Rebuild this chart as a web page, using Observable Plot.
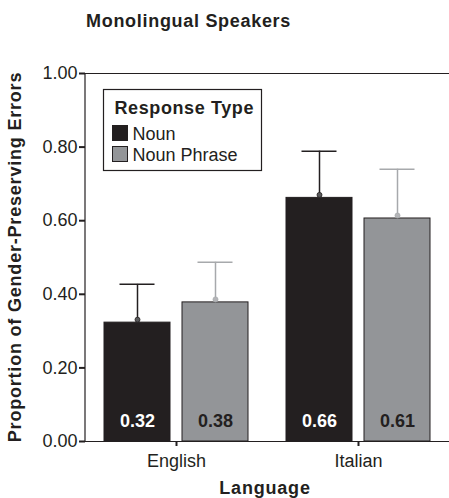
<!DOCTYPE html>
<html><head><meta charset="utf-8">
<script src="https://cdn.jsdelivr.net/npm/d3@7"></script>
<script src="https://cdn.jsdelivr.net/npm/@observablehq/plot@0.6"></script>
<style>
body{margin:0;background:#fff;font-family:"Liberation Sans",Arial,sans-serif;overflow:hidden;}
#title{height:40px;box-sizing:border-box;padding:12px 0 0 86px;font-weight:bold;font-size:18px;letter-spacing:0.7px;color:#231f20;line-height:18px;}
</style></head><body>
<div id="title">Monolingual Speakers</div>
<div id="chart"></div>
<script>
const languages = ["English", "Italian"];
const responseTypes = ["Noun", "Noun Phrase"];
const nounMeans = [0.323, 0.662];
const phraseMeans = [0.378, 0.606];
const nounUpper = [0.427, 0.789];
const phraseUpper = [0.487, 0.740];
const yTicks = [0, 0.2, 0.4, 0.6, 0.8, 1.0];
const barColors = ["#231f20", "#939598"];
const errColors = ["#231f20", "#a7a9ac"];
const dotColors = ["#5a5a5c", "#b4b5b8"];
const labelColors = ["#ffffff", "#231f20"];

const series = [nounMeans, phraseMeans];
const uppers = [nounUpper, phraseUpper];
const data = [];
languages.forEach((lang, i) => {
  responseTypes.forEach((t, j) => {
    data.push({language: lang, type: t, mean: series[j][i], upper: uppers[j][i], k: j});
  });
});

const typeMarks = responseTypes.flatMap((t, j) => {
  const d = data.filter(r => r.type === t);
  return [
    Plot.ruleX(d, {fx: "language", x: "type", y1: "mean", y2: "upper", stroke: errColors[j], strokeWidth: 1.5}),
    Plot.tickY(d, {fx: "language", x: "type", y: "upper", stroke: errColors[j], strokeWidth: 1.5, insetLeft: 15.5, insetRight: 15.5}),
    Plot.barY(d, {fx: "language", x: "type", y: "mean", fill: barColors[j], stroke: "#231f20", strokeWidth: 1}),
    Plot.dot(d, {fx: "language", x: "type", y: "mean", r: 2.5, fill: dotColors[j], stroke: errColors[j], strokeWidth: 0.8, dy: -3}),
    Plot.text(d, {fx: "language", x: "type", y: () => 0, text: r => d3.format(".2f")(r.mean), fill: labelColors[j], fontWeight: "bold", fontSize: 18, letterSpacing: 0.5, dy: -20})
  ];
});

const plot = Plot.plot({
  width: 449, height: 458,
  marginLeft: 85, marginRight: 0, marginTop: 33, marginBottom: 57,
  style: {fontFamily: "'Liberation Sans', Arial, sans-serif", fontSize: "18px", color: "#231f20", background: "white", overflow: "visible"},
  fx: {domain: languages, padding: 0, label: null, axis: null},
  x: {domain: responseTypes, paddingInner: 0.152, paddingOuter: 0.228, axis: null},
  y: {domain: [0, 1], axis: null},
  marks: [
    Plot.ruleY([1], {stroke: "#231f20", strokeWidth: 1.2}),
    ...typeMarks,
    Plot.ruleY([0], {stroke: "#231f20", strokeWidth: 1.2}),
    Plot.axisY({ticks: yTicks, tickFormat: d3.format(".2f"), tickSize: 6, tickPadding: 2, strokeWidth: 2, label: null, fontSize: 18}),
    Plot.axisFx({anchor: "bottom", tickSize: 5, tickPadding: 8, strokeWidth: 2, label: null, fontSize: 18})
  ]
});

document.getElementById("chart").appendChild(plot);

const svg = d3.select(plot);
const yS = plot.scale("y");
const yMid = (yS.range[0] + yS.range[1]) / 2;

// left axis line, from the y scale's range
svg.append("line")
  .attr("x1", 85).attr("x2", 85)
  .attr("y1", yS.range[0]).attr("y2", yS.range[1])
  .attr("stroke", "#231f20").attr("stroke-width", 1.2);

svg.append("text")
  .attr("transform", `translate(21,${yMid}) rotate(-90)`)
  .attr("text-anchor", "middle")
  .attr("font-weight", "bold").attr("font-size", 18).attr("letter-spacing", 0.8).attr("fill", "#231f20")
  .text("Proportion of Gender-Preserving Errors");
svg.append("text")
  .attr("x", 265).attr("y", 454)
  .attr("text-anchor", "middle")
  .attr("font-weight", "bold").attr("font-size", 18).attr("letter-spacing", 0.8).attr("fill", "#231f20")
  .text("Language");

// legend
const lg = svg.append("g").attr("transform", "translate(103.5,49.5)").attr("text-anchor", "start");
lg.append("rect").attr("width", 158).attr("height", 81).attr("fill", "white").attr("stroke", "#231f20").attr("stroke-width", 1.2);
lg.append("text").attr("x", 11).attr("y", 24).attr("font-weight", "bold").attr("font-size", 18).attr("letter-spacing", 0.6).attr("fill", "#231f20").text("Response Type");
responseTypes.forEach((t, j) => {
  const y0 = 36 + j * 21;
  lg.append("rect").attr("x", 9).attr("y", y0).attr("width", 15).attr("height", 15)
    .attr("fill", barColors[j]).attr("stroke", "#231f20").attr("stroke-width", 1);
  lg.append("text").attr("x", 29).attr("y", y0 + 14).attr("font-size", 18).attr("fill", "#231f20").text(t);
});
</script>
</body></html>
